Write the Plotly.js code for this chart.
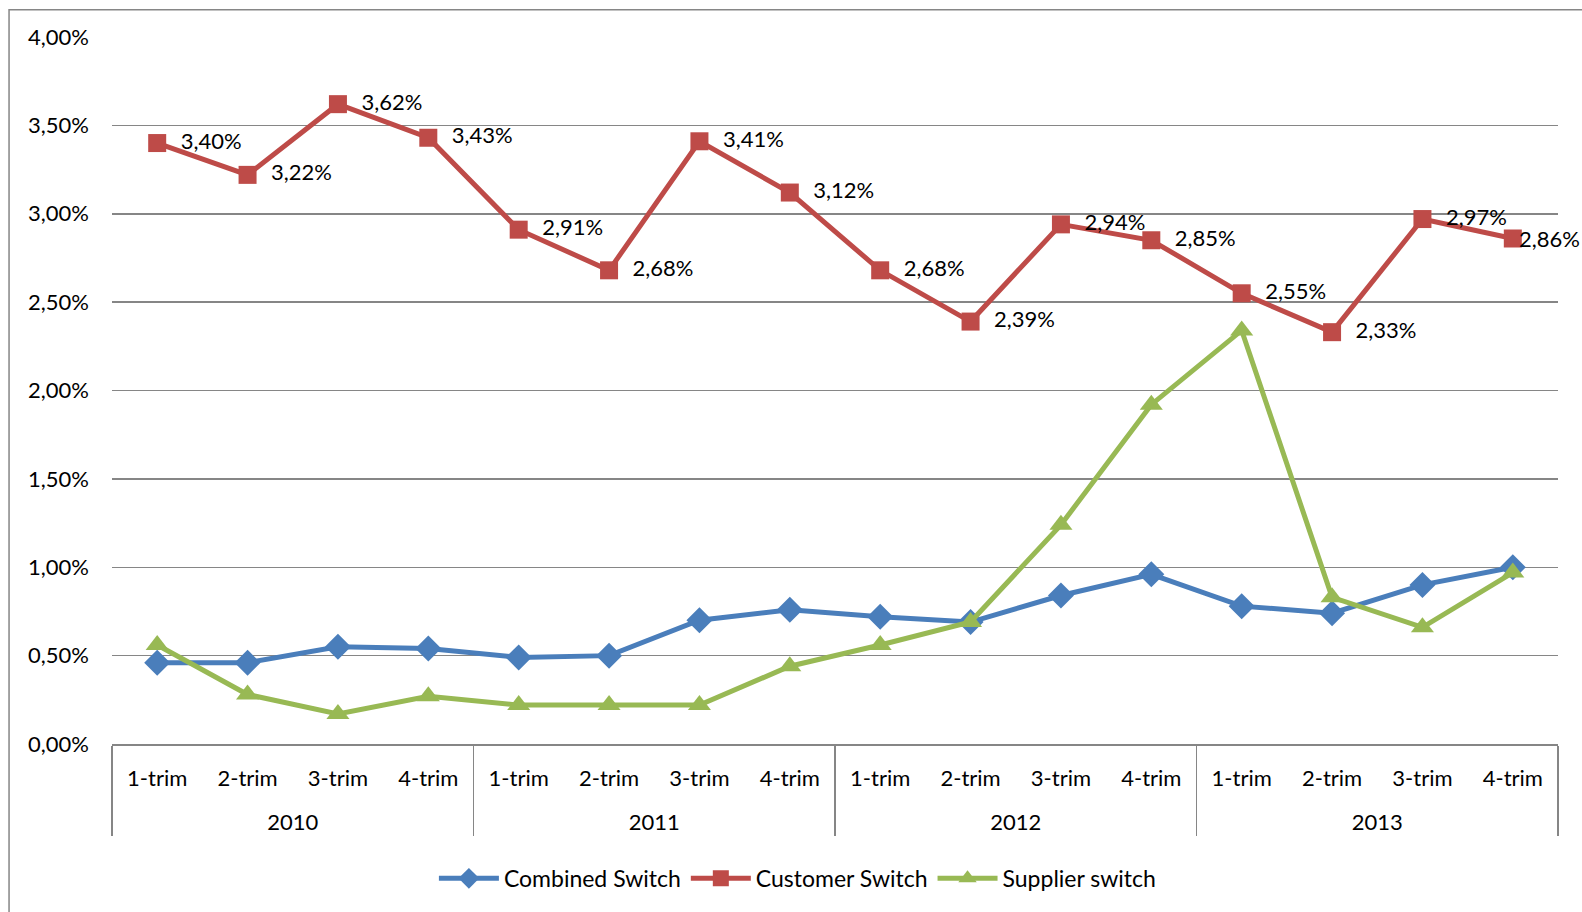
<!DOCTYPE html>
<html>
<head>
<meta charset="utf-8">
<script src="https://cdn.plot.ly/plotly-3.0.1.min.js"></script>
<style>
  body { margin: 0; background: #fff; }
  #chart { width: 1582px; height: 912px; }
</style>
</head>
<body>
<div id="chart"></div>
<script>
// quarters and years for the two-level category axis
var years = ['2010', '2011', '2012', '2013'];
var quarters = ['1-trim', '2-trim', '3-trim', '4-trim'];

// switch rates, in percent, one per quarter
var combinedSwitch = [0.46, 0.46, 0.55, 0.54, 0.49, 0.50, 0.70, 0.76, 0.72, 0.69, 0.84, 0.96, 0.78, 0.74, 0.90, 1.00];
var customerSwitch = [3.40, 3.22, 3.62, 3.43, 2.91, 2.68, 3.41, 3.12, 2.68, 2.39, 2.94, 2.85, 2.55, 2.33, 2.97, 2.86];
var supplierSwitch = [0.56, 0.28, 0.17, 0.27, 0.22, 0.22, 0.22, 0.44, 0.56, 0.69, 1.24, 1.92, 2.34, 0.83, 0.66, 0.97];

// build the multicategory x values (year row pushed down one line, like Excel)
var yearRow = [];
var quarterRow = [];
years.forEach(function (y) {
    quarters.forEach(function (q) {
        yearRow.push('<br>' + y);
        quarterRow.push(q);
    });
});
var xCats = [yearRow, quarterRow];

function toFraction(arr) {
    return arr.map(function (v) { return v / 100; });
}
function pct(v) {
    return v.toFixed(2).replace('.', ',') + '%';
}

var font = 'Lato, "Open Sans", sans-serif';
var fsize = 22;

// labels sit a bit to the right of each red marker; the last one is an
// annotation pulled in over its marker so it stays inside the picture
var lastIdx = customerSwitch.length - 1;
var customerLabels = customerSwitch.map(function (v, i) {
    return i === lastIdx ? '' : '\u00a0\u00a0' + pct(v);
});

var traces = [
    {
        x: xCats,
        y: toFraction(combinedSwitch),
        name: 'Combined Switch',
        type: 'scatter',
        mode: 'lines+markers',
        line: { color: '#4A7EBB', width: 5 },
        marker: { symbol: 'diamond', size: 20, color: '#4A7EBB' }
    },
    {
        x: xCats,
        y: toFraction(customerSwitch),
        name: 'Customer Switch',
        type: 'scatter',
        mode: 'lines+markers+text',
        text: customerLabels,
        textposition: 'middle right',
        textfont: { family: font, size: fsize, color: '#000' },
        cliponaxis: false,
        line: { color: '#BE4B48', width: 5 },
        marker: { symbol: 'square', size: 18, color: '#BE4B48' }
    },
    {
        x: xCats,
        y: toFraction(supplierSwitch),
        name: 'Supplier switch',
        type: 'scatter',
        mode: 'lines+markers',
        line: { color: '#98B954', width: 5 },
        marker: { symbol: 'triangle-up', size: 20, color: '#98B954' }
    }
];

var layout = {
    width: 1582,
    height: 912,
    separators: ',.',
    paper_bgcolor: '#fff',
    plot_bgcolor: '#fff',
    font: { family: font, size: fsize, color: '#000' },
    margin: { l: 112, r: 24, t: 37, b: 166 },
    showlegend: true,
    legend: {
        orientation: 'h',
        x: 0.474,
        xanchor: 'center',
        y: -0.19,
        yanchor: 'middle',
        font: { family: font, size: 23, color: '#000' },
        itemwidth: 60
    },
    xaxis: {
        type: 'multicategory',
        range: [-0.5, 15.5],
        autorange: false,
        showline: true,
        linecolor: '#868686',
        linewidth: 2,
        showgrid: false,
        showdividers: true,
        dividercolor: '#868686',
        dividerwidth: 1.5,
        ticklabelstandoff: 14,
        tickfont: { family: font, size: fsize, color: '#000' }
    },
    yaxis: {
        range: [0, 0.04],
        dtick: 0.005,
        tickformat: '.2%',
        showline: false,
        gridcolor: '#868686',
        gridwidth: 1.5,
        zeroline: false,
        ticklabelstandoff: 22,
        tickfont: { family: font, size: fsize, color: '#000' }
    },
    annotations: [
        {
            x: lastIdx,
            y: customerSwitch[lastIdx] / 100,
            xref: 'x', yref: 'y',
            text: pct(customerSwitch[lastIdx]),
            showarrow: false,
            xanchor: 'left',
            yanchor: 'middle',
            xshift: 4,
            font: { family: font, size: fsize, color: '#000' }
        }
    ],
    shapes: [
        {
            type: 'rect',
            xref: 'paper', yref: 'paper',
            x0: -0.0712, x1: 1.05, y0: -0.35, y1: 1.0386,
            line: { color: '#868686', width: 1.5 },
            layer: 'below'
        }
    ]
};

Plotly.newPlot('chart', traces, layout, { staticPlot: true });
</script>
</body>
</html>
